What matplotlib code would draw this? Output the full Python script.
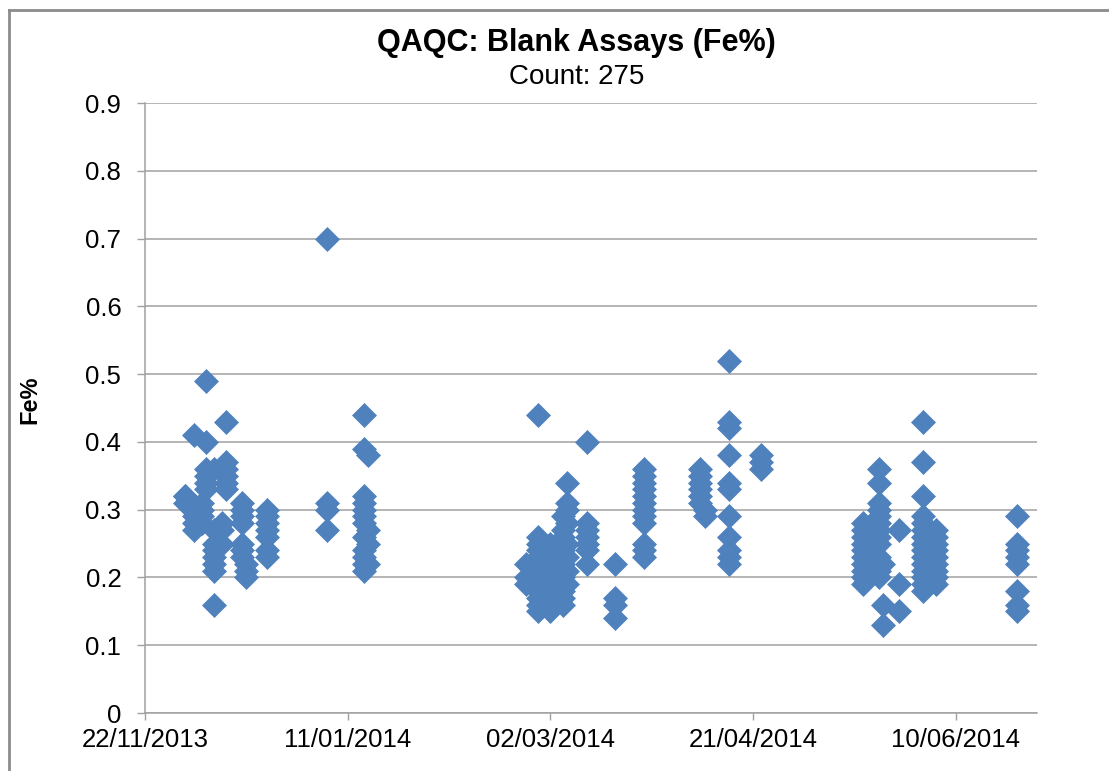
import datetime as dt
import matplotlib
matplotlib.use('Agg')
import matplotlib.pyplot as plt
import matplotlib.dates as mdates
from matplotlib.lines import Line2D

plt.rcParams['font.family'] = ['Liberation Sans', 'DejaVu Sans']

# blank assay batches: sample date and Fe% results
batch_dates = [
    '2013-12-02', '2013-12-04', '2013-12-06', '2013-12-07', '2013-12-09',
    '2013-12-11', '2013-12-12', '2013-12-16', '2013-12-17', '2013-12-22',
    '2014-01-06', '2014-01-15', '2014-01-16',
    '2014-02-24', '2014-02-27', '2014-02-28', '2014-03-02', '2014-03-05',
    '2014-03-06', '2014-03-11', '2014-03-18', '2014-03-25',
    '2014-04-08', '2014-04-09', '2014-04-15', '2014-04-23',
    '2014-05-18', '2014-05-19', '2014-05-22', '2014-05-23', '2014-05-27',
    '2014-06-02', '2014-06-05', '2014-06-25',
]
batch_values = [
    [0.32, 0.31, 0.32],
    [0.41, 0.29, 0.28, 0.27],
    [0.31, 0.30, 0.28, 0.29],
    [0.49, 0.40, 0.36, 0.35, 0.34, 0.33],
    [0.36, 0.27, 0.25, 0.24, 0.23, 0.22, 0.21, 0.16],
    [0.28, 0.27, 0.25],
    [0.43, 0.37, 0.36, 0.35, 0.34, 0.33],
    [0.31, 0.30, 0.29, 0.28, 0.25, 0.24, 0.23],
    [0.22, 0.21, 0.20],
    [0.30, 0.29, 0.28, 0.27, 0.26, 0.24, 0.23],
    [0.70, 0.31, 0.30, 0.27],
    [0.44, 0.39, 0.32, 0.31, 0.30, 0.29, 0.28, 0.26, 0.24, 0.23, 0.22, 0.21],
    [0.38, 0.27, 0.25, 0.22],
    [0.22, 0.20, 0.19],
    [0.44, 0.26, 0.25, 0.24, 0.23, 0.22, 0.21, 0.20, 0.19, 0.18, 0.17, 0.16, 0.15],
    [0.24, 0.21, 0.17, 0.16],
    [0.25, 0.23, 0.22, 0.21, 0.20, 0.19, 0.18, 0.17, 0.16, 0.15],
    [0.29, 0.27, 0.26, 0.24, 0.22, 0.20, 0.18, 0.17, 0.16],
    [0.34, 0.31, 0.30, 0.28, 0.25, 0.23, 0.21, 0.19],
    [0.40, 0.28, 0.27, 0.26, 0.25, 0.24, 0.22],
    [0.22, 0.17, 0.16, 0.14],
    [0.36, 0.35, 0.34, 0.33, 0.32, 0.31, 0.30, 0.29, 0.28, 0.25, 0.24, 0.23],
    [0.36, 0.35, 0.34, 0.33, 0.32, 0.31],
    [0.30, 0.29],
    [0.52, 0.43, 0.42, 0.38, 0.34, 0.33, 0.29, 0.26, 0.24, 0.23, 0.22],
    [0.38, 0.37, 0.36],
    [0.28, 0.27, 0.26, 0.25, 0.24, 0.23, 0.22, 0.21, 0.20, 0.19],
    [0.26, 0.24, 0.22, 0.20],
    [0.36, 0.34, 0.31, 0.30, 0.29, 0.28, 0.27, 0.26, 0.25, 0.23, 0.22, 0.21, 0.20],
    [0.16, 0.13, 0.22],
    [0.27, 0.19, 0.15],
    [0.43, 0.37, 0.32, 0.29, 0.28, 0.27, 0.26, 0.25, 0.24, 0.23, 0.22, 0.21, 0.20, 0.19, 0.18],
    [0.27, 0.26, 0.25, 0.24, 0.23, 0.22, 0.21, 0.20, 0.19],
    [0.29, 0.25, 0.24, 0.23, 0.22, 0.18, 0.16, 0.15],
]

x_start = dt.date(2013, 11, 22)
x_end = dt.date(2014, 6, 30)
tick_step_days = 50
y_ticks = [0, 0.1, 0.2, 0.3, 0.4, 0.5, 0.6, 0.7, 0.8, 0.9]

xs = []
ys = []
for d, vals in zip(batch_dates, batch_values):
    day = dt.datetime.strptime(d, '%Y-%m-%d').date()
    for v in vals:
        xs.append(day)
        ys.append(v)

fig = plt.figure(figsize=(11.09, 7.71), dpi=100)
ax = fig.add_axes([0.1307, 0.0752, 0.8044, 0.7912])

grey = '#a0a0a0'
ax.plot(xs, ys, linestyle='none', marker='D', markersize=12,
        color='#4f81bd', markeredgecolor='#4f81bd', markeredgewidth=0.5, zorder=3)

ax.set_xlim(x_start, x_end)
ax.set_ylim(0, 0.9)
ax.set_yticks(y_ticks)
ax.set_yticklabels(['0'] + ['%.1f' % t for t in y_ticks[1:]])
ticks = [x_start + dt.timedelta(days=tick_step_days * i) for i in range(5)]
ax.set_xticks(ticks)
ax.xaxis.set_major_formatter(mdates.DateFormatter('%d/%m/%Y'))

ax.grid(axis='y', color=grey, linewidth=1.1)
ax.set_axisbelow(True)
for s in ['top', 'right']:
    ax.spines[s].set_visible(False)
for s in ['left', 'bottom']:
    ax.spines[s].set_color(grey)
    ax.spines[s].set_linewidth(1.1)
ax.tick_params(axis='y', direction='out', length=6, width=1, color=grey,
               labelsize=18.5, pad=11)
ax.tick_params(axis='x', direction='out', length=5, width=1, color=grey,
               labelsize=18.5, pad=6)

fig.text(0.52, 1 - 43 / 771, 'QAQC: Blank Assays (Fe%)', ha='center', va='center',
         fontsize=22, fontweight='bold')
fig.text(0.52, 1 - 77 / 771, 'Count: 275', ha='center', va='center', fontsize=20)
fig.text(0.027, 0.481, 'Fe%', rotation=90, ha='center', va='center',
         fontsize=17, fontweight='bold')

# chart area border (left and top edges are visible)
fig.add_artist(Line2D([8.5 / 1109, 8.5 / 1109], [0, 1 - 10 / 771],
                      transform=fig.transFigure, color='#8c8c8c', linewidth=2))
fig.add_artist(Line2D([8.5 / 1109, 1], [1 - 10 / 771, 1 - 10 / 771],
                      transform=fig.transFigure, color='#8c8c8c', linewidth=2))

fig.savefig('out.png', dpi=100)
